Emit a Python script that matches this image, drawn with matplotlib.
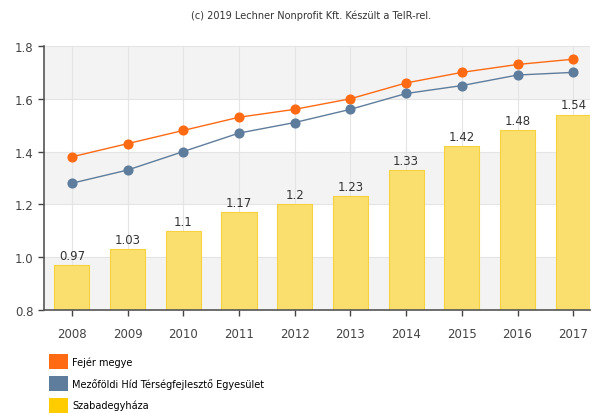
import numpy as np
import matplotlib.pyplot as plt
from matplotlib.patches import Patch

years = ['2008', '2009', '2010', '2011', '2012', '2013', '2014', '2015', '2016', '2017']
fejer = [1.38, 1.43, 1.48, 1.53, 1.56, 1.60, 1.66, 1.70, 1.73, 1.75]
mezofoldi = [1.28, 1.33, 1.40, 1.47, 1.51, 1.56, 1.62, 1.65, 1.69, 1.70]
szabadegyhaza = [0.97, 1.03, 1.1, 1.17, 1.2, 1.23, 1.33, 1.42, 1.48, 1.54]

labels = ['Fejér megye', 'Mezőföldi Híd Térségfejlesztő Egyesület', 'Szabadegyháza']
colors = ['#FF6A13', '#5E7C9C', '#FFCC00']

fig = plt.figure(figsize=(5.98, 4.14), dpi=100)
ax = fig.add_axes([0.0736, 0.249, 0.913, 0.6375])

x = np.arange(len(years))

# alternating horizontal bands
for lo in [0.8, 1.2, 1.6]:
    ax.axhspan(lo, lo + 0.2, color='#F3F3F3', zorder=0, lw=0)
ax.grid(True, color='#E4E4E4', lw=0.8, zorder=0.5)
ax.set_axisbelow(True)

bars = ax.bar(x, szabadegyhaza, width=0.63, color='#FBDF6E', edgecolor='#F5D23E',
              lw=0.8, zorder=2)
for xi, v in zip(x, szabadegyhaza):
    ax.text(xi, v + 0.012, f'{v:g}', ha='center', va='bottom', fontsize=8.5,
            color='#333333', zorder=4)

ax.plot(x, fejer, color=colors[0], lw=1.0, marker='o', ms=6.3, zorder=3)
ax.plot(x, mezofoldi, color=colors[1], lw=1.0, marker='o', ms=6.3, zorder=3)

ax.set_xlim(-0.5, 9.3)
ax.set_ylim(0.8, 1.8)
ax.set_yticks([0.8, 1.0, 1.2, 1.4, 1.6, 1.8])
ax.set_yticklabels(['0.8', '1.0', '1.2', '1.4', '1.6', '1.8'])
ax.set_xticks(x)
ax.set_xticklabels(years)
ax.tick_params(axis='both', labelsize=8.5, colors='#444444', length=4, width=1)
ax.tick_params(axis='x', pad=8)
for s in ['top', 'right']:
    ax.spines[s].set_visible(False)
for s in ['left', 'bottom']:
    ax.spines[s].set_color('#555555')
    ax.spines[s].set_linewidth(1.2)

fig.text(0.52, 0.962, '(c) 2019 Lechner Nonprofit Kft. Készült a TeIR-rel.',
         ha='center', va='center', fontsize=7, color='#333333')

handles = [Patch(facecolor=c, edgecolor='none') for c in colors]
fig.legend(handles, labels, loc='upper left', bbox_to_anchor=(0.082, 0.142),
           frameon=False, fontsize=7, handlelength=1.9, handleheight=2.0,
           labelspacing=0.7, handletextpad=0.5, borderpad=0, borderaxespad=0)

fig.savefig('out.png', dpi=100)
